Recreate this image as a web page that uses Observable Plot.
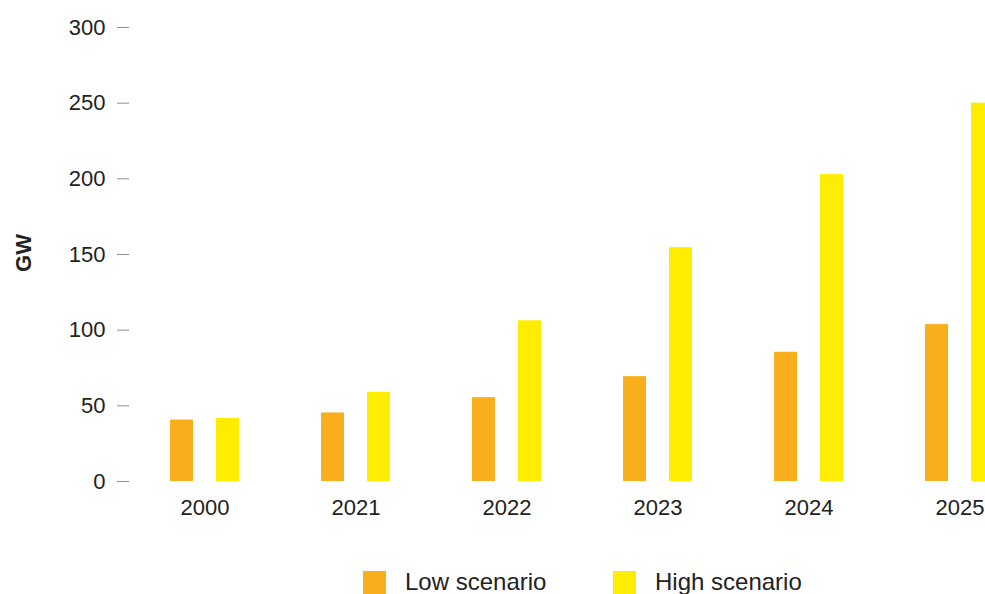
<!DOCTYPE html>
<html>
<head>
<meta charset="utf-8">
<script src="https://cdn.jsdelivr.net/npm/d3@7"></script>
<script src="https://cdn.jsdelivr.net/npm/@observablehq/plot@0.6"></script>
<style>
  html, body { margin: 0; padding: 0; background: #fff; overflow: hidden; }
  #wrap { position: relative; width: 985px; height: 594px; overflow: hidden; font-family: "Liberation Sans", Arial, Helvetica, sans-serif; color: #222; }
  #chart { position: absolute; left: 0; top: 0; }
  #ylabel { position: absolute; left: 24px; top: 253px; transform: translate(-50%, -50%) rotate(-90deg); font-weight: bold; font-size: 22px; white-space: nowrap; line-height: 22px; }
  .sw { position: absolute; width: 23px; height: 23px; top: 571px; }
  .lt { position: absolute; font-size: 24px; line-height: 24px; top: 570px; white-space: nowrap; }
</style>
</head>
<body>
<div id="wrap">
  <div id="chart"></div>
  <div id="ylabel">GW</div>
  <div id="legend"></div>
</div>
<script>
const years = ["2000", "2021", "2022", "2023", "2024", "2025"];
const scenarios = ["Low scenario", "High scenario"];
const lowValues = [40.6, 45.3, 55.4, 69.3, 85.4, 103.7];
const highValues = [41.7, 58.9, 106.2, 154.5, 202.8, 250];
const colors = ["#F9AE1B", "#FFED00"];
const yTicks = [0, 50, 100, 150, 200, 250, 300];

const data = years.flatMap((year, i) => [
  {year, scenario: scenarios[0], value: lowValues[i]},
  {year, scenario: scenarios[1], value: highValues[i]}
]);

const svg = Plot.plot({
  width: 1035,
  height: 530,
  marginLeft: 129,
  marginRight: 0,
  marginTop: 27,
  marginBottom: 49,
  style: {fontFamily: '"Liberation Sans", Arial, Helvetica, sans-serif', fontSize: "22px", color: "#8f8f8f", background: "white", maxWidth: "none", overflow: "visible"},
  facet: {data, x: "year", marginLeft: 0, marginRight: 0},
  fx: {domain: years, padding: 0, tickSize: 0, tickPadding: 18, label: null, axis: "bottom"},
  x: {domain: scenarios, paddingInner: 0.5, paddingOuter: 0.891, axis: null},
  y: {domain: [0, 300], ticks: yTicks, tickSize: 12, tickPadding: 12, label: null},
  color: {domain: scenarios, range: colors},
  marks: [
    Plot.barY(data, {x: "scenario", y: "value", fill: "scenario"})
  ]
});
svg.style.maxWidth = "none";
svg.querySelectorAll("text").forEach(t => t.setAttribute("fill", "#222"));
document.getElementById("chart").appendChild(svg);

const legend = document.getElementById("legend");
const swX = [363, 613];
const txX = [405, 655];
scenarios.forEach((s, i) => {
  const sw = document.createElement("div");
  sw.className = "sw";
  sw.style.left = swX[i] + "px";
  sw.style.background = colors[i];
  legend.appendChild(sw);
  const t = document.createElement("div");
  t.className = "lt";
  t.style.left = txX[i] + "px";
  t.textContent = s;
  legend.appendChild(t);
});
</script>
</body>
</html>
